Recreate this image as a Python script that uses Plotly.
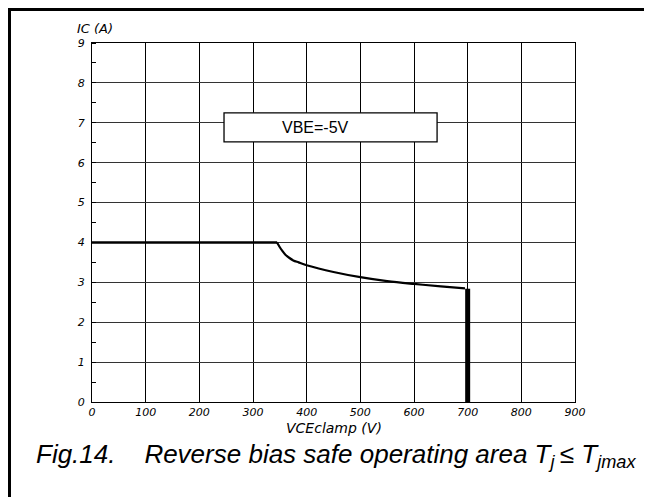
import plotly.graph_objects as go

# Data
vce_curve = [0, 345, 347, 350, 354, 360, 368, 375, 385, 400, 450, 500, 550, 600, 650, 695]
ic_curve = [4.0, 4.0, 3.95, 3.88, 3.80, 3.70, 3.61, 3.55, 3.50, 3.43, 3.26, 3.13, 3.03, 2.96, 2.90, 2.85]
vce_limit = [700, 700]
ic_limit = [2.84, 0]

x_ticks = [0, 100, 200, 300, 400, 500, 600, 700, 800, 900]
y_ticks = [0, 1, 2, 3, 4, 5, 6, 7, 8, 9]

OFF = 8  # page body margin
L, R, T, B = 92 - OFF, 77, 43 - OFF, 95
W, H = 652 - OFF, 497 - OFF
pw, ph = W - L - R, H - T - B

def px(x):
    return (x - OFF - L) / pw

def py(y):
    return (H - B - (y - OFF)) / ph

fig = go.Figure()
fig.add_trace(go.Scatter(x=vce_curve[:2], y=ic_curve[:2], mode="lines",
                         line=dict(color="black", width=2.5), showlegend=False))
fig.add_trace(go.Scatter(x=vce_curve[1:], y=ic_curve[1:], mode="lines",
                         line=dict(color="black", width=2.2, shape="spline"), showlegend=False))
fig.add_trace(go.Scatter(x=vce_limit, y=ic_limit, mode="lines",
                         line=dict(color="black", width=5), showlegend=False))

tickfont = dict(family="DejaVu Sans", size=11, color="black", style="italic")

fig.update_xaxes(range=[0, 900], tickvals=x_ticks, ticktext=[str(v) for v in x_ticks],
                 showgrid=True, gridcolor="black", gridwidth=1.3,
                 showline=True, linecolor="black", linewidth=1.3, mirror=True,
                 ticks="", tickfont=tickfont, zeroline=False, fixedrange=True)
fig.update_yaxes(range=[0, 9], tickvals=y_ticks, ticktext=[str(v) for v in y_ticks],
                 showgrid=True, gridcolor="#333333", gridwidth=1,
                 showline=True, linecolor="black", linewidth=1.3, mirror=True,
                 ticks="", tickfont=tickfont, zeroline=False, ticklabelstandoff=4,
                 minor=dict(ticks="inside", dtick=0.5, ticklen=4, tickcolor="black",
                            tickwidth=1, showgrid=False),
                 fixedrange=True)

shapes = [
    # outer frame
    dict(type="rect", xref="paper", yref="paper",
         x0=px(OFF + 1.5), x1=px(700), y0=py(560), y1=py(OFF + 1.5),
         line=dict(color="black", width=3), fillcolor="rgba(0,0,0,0)", layer="above"),
    # legend box
    dict(type="rect", xref="x", yref="y", x0=246, x1=643, y0=6.52, y1=7.25,
         line=dict(color="black", width=1.3), fillcolor="white", layer="above"),
]

annotations = [
    dict(text="VBE=-5V", x=416, y=6.88, xref="x", yref="y", showarrow=False,
         font=dict(family="Liberation Sans", size=16, color="black")),
    dict(text="IC (A)", x=px(75), y=py(29), xref="paper", yref="paper", showarrow=False,
         xanchor="left", yanchor="middle",
         font=dict(family="DejaVu Sans", size=13, color="black", style="italic")),
    dict(text="VCEclamp (V)", x=0.5, y=py(428), xref="paper", yref="paper", showarrow=False,
         xanchor="center", yanchor="middle",
         font=dict(family="DejaVu Sans", size=14, color="black", style="italic")),
    dict(text="Fig.14.    Reverse bias safe operating area T<sub>j</sub>\u2009≤ T<sub>jmax</sub>",
         x=px(34), y=py(455), xref="paper", yref="paper", showarrow=False,
         xanchor="left", yanchor="middle",
         font=dict(family="Liberation Sans", size=26, color="black", style="italic")),
]

fig.update_layout(width=W, height=H, margin=dict(l=L, r=R, t=T, b=B),
                  paper_bgcolor="white", plot_bgcolor="white",
                  shapes=shapes, annotations=annotations, showlegend=False)

fig.write_html("out.html")
